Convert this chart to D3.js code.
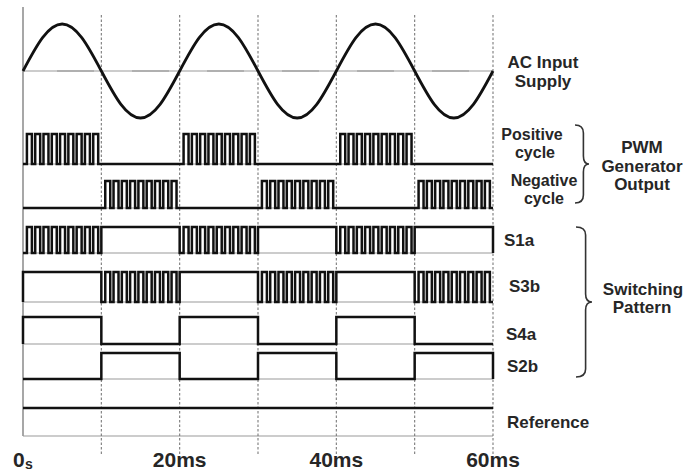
<!DOCTYPE html>
<html>
<head>
<meta charset="utf-8">
<script src="https://cdn.jsdelivr.net/npm/d3@7"></script>
<style>
  body { margin: 0; background: #fff; }
  svg { display: block; }
  text { font-family: "Liberation Sans", Arial, sans-serif; fill: #262626; }
</style>
</head>
<body>
<svg id="chart" width="686" height="473"></svg>
<script>
// ---- data ----
// time axis (ms)
var timeTicks = [0, 20, 40, 60];
var tickLabels = ["0", "20ms", "40ms", "60ms"];
var halfCycleMarks = [10, 20, 30, 40, 50, 60];

// AC supply, sampled every 2.5 ms (normalised amplitude)
var acTimes = [0, 2.5, 5, 7.5, 10, 12.5, 15, 17.5, 20, 22.5, 25, 27.5, 30,
               32.5, 35, 37.5, 40, 42.5, 45, 47.5, 50, 52.5, 55, 57.5, 60];
var acValues = [0, 0.71, 1, 0.71, 0, -0.71, -1, -0.71, 0, 0.71, 1, 0.71, 0,
                -0.71, -1, -0.71, 0, 0.71, 1, 0.71, 0, -0.71, -1, -0.71, 0];

// state of each signal for every 10 ms half cycle
var positiveCycle = ["pwm", "low", "pwm", "low", "pwm", "low"];
var negativeCycle = ["low", "pwm", "low", "pwm", "low", "pwm"];
var s1a = ["pwm", "high", "pwm", "high", "pwm", "high"];
var s3b = ["high", "pwm", "high", "pwm", "high", "pwm"];
var s4a = ["high", "low", "high", "low", "high", "low"];
var s2b = ["low", "high", "low", "high", "low", "high"];
var reference = ["low", "low", "low", "low", "low", "low"];

// carrier pulses inside one half cycle
var pwmPulses = 9;
var pwmDuty = 0.6;
var pwmFrom = 0.5;   // ms after the half cycle starts
var pwmTo = 9.6;

var svg = d3.select("#chart");
var x = d3.scaleLinear().domain([0, 60]).range([23, 493]);

// build [t, level] points for a signal
function wave(states) {
    var pts = [[0, 0]];
    states.forEach(function(s, i) {
        var t0 = i * 10;
        if (s == "high") pts.push([t0, 1]);
        else if (s == "low") pts.push([t0, 0]);
        else {
            pts.push([t0, 0]);
            var p = (pwmTo - pwmFrom) / (pwmPulses - 1 + pwmDuty);
            for (var k = 0; k < pwmPulses; k++) {
                var a = t0 + pwmFrom + k * p;
                pts.push([a, 1]);
                pts.push([a + pwmDuty * p, 0]);
            }
        }
    });
    pts.push([60, 0]);
    return pts;
}

// axis frame
svg.append("line")
    .attr("x1", x(0)).attr("x2", x(0))
    .attr("y1", 7).attr("y2", 436)
    .attr("stroke", "#8a8a8a").attr("stroke-width", 1.5);

svg.append("line")
    .attr("x1", x(0)).attr("x2", x(60))
    .attr("y1", 436).attr("y2", 436)
    .attr("stroke", "#9a9a9a").attr("stroke-width", 1.2);

// dashed half cycle markers
svg.selectAll(".mark")
    .data(halfCycleMarks)
    .enter()
    .append("line")
        .attr("x1", d => x(d)).attr("x2", d => x(d))
        .attr("y1", 15).attr("y2", 455)
        .attr("stroke", "#7a7a7a")
        .attr("stroke-width", 1.1)
        .attr("stroke-dasharray", "2.5,2");

// AC supply
var yAc = d3.scaleLinear().domain([-1, 1]).range([118, 24]);
svg.append("line")
    .attr("x1", x(0)).attr("x2", x(60))
    .attr("y1", yAc(0)).attr("y2", yAc(0))
    .attr("stroke", "#999").attr("stroke-width", 1);
svg.append("line")
    .attr("x1", x(0)).attr("x2", x(60))
    .attr("y1", yAc(0)).attr("y2", yAc(0))
    .attr("stroke", "#b0b0b0").attr("stroke-width", 2.2)
    .attr("stroke-dasharray", "37,38")
    .attr("stroke-dashoffset", 41);

svg.append("path")
    .datum(d3.zip(acTimes, acValues))
    .attr("fill", "none")
    .attr("stroke", "#111")
    .attr("stroke-width", 2.8)
    .attr("d", d3.line()
        .x(d => x(d[0]))
        .y(d => yAc(d[1]))
        .curve(d3.curveNatural));

// digital rows
var rows = [
    {states: positiveCycle, top: 134, bottom: 164},
    {states: negativeCycle, top: 181, bottom: 208},
    {states: s1a, top: 227, bottom: 253},
    {states: s3b, top: 272, bottom: 302},
    {states: s4a, top: 317, bottom: 344},
    {states: s2b, top: 353, bottom: 379},
    {states: reference, top: 380, bottom: 408}
];

rows.forEach(function(r) {
    var ys = d3.scaleLinear().domain([0, 1]).range([r.bottom, r.top]);
    svg.append("line")
        .attr("x1", x(0)).attr("x2", x(60))
        .attr("y1", ys(0)).attr("y2", ys(0))
        .attr("stroke", "#9a9a9a").attr("stroke-width", 1.2);
    svg.append("path")
        .datum(wave(r.states))
        .attr("fill", "none")
        .attr("stroke", "#111")
        .attr("stroke-width", 2.5)
        .attr("stroke-linejoin", "miter")
        .attr("d", d3.line()
            .x(d => x(d[0]))
            .y(d => ys(d[1]))
            .curve(d3.curveStepAfter));
});

// tick labels
svg.selectAll(".tick")
    .data(timeTicks)
    .enter()
    .append("text")
        .attr("x", d => d == 0 ? 13 : x(d))
        .attr("y", 467)
        .attr("text-anchor", d => d == 0 ? "start" : "middle")
        .style("font-size", "21px")
        .style("font-weight", "bold")
        .text((d, i) => tickLabels[i]);
svg.append("text")
    .attr("x", 25).attr("y", 469)
    .style("font-size", "14px")
    .style("font-weight", "bold")
    .text("s");

// right hand labels
function label(txt, xx, yy, anchor, size) {
    svg.append("text")
        .attr("x", xx).attr("y", yy)
        .attr("text-anchor", anchor || "middle")
        .style("font-size", (size || 17) + "px")
        .style("font-weight", "bold")
        .text(txt);
}
label("AC Input", 543, 68);
label("Supply", 543, 87);
label("Positive", 532, 140, "middle", 16);
label("cycle", 535, 158, "middle", 16);
label("Negative", 544, 186, "middle", 16);
label("cycle", 544, 204, "middle", 16);
label("PWM", 642, 153);
label("Generator", 642, 172);
label("Output", 642, 190);
label("S1a", 504, 246, "start");
label("S3b", 509, 292, "start");
label("S4a", 506, 340, "start");
label("S2b", 507, 372, "start");
label("Reference", 507, 428, "start");
label("Switching", 643, 295);
label("Pattern", 642, 313);

// curly braces
function brace(x0, y0, y1, depth) {
    var xm = x0 + depth * 0.6, xt = x0 + depth, ym = (y0 + y1) / 2, r = 8;
    return "M" + x0 + "," + y0 +
        " Q" + xm + "," + y0 + " " + xm + "," + (y0 + r) +
        " L" + xm + "," + (ym - r) +
        " Q" + xm + "," + ym + " " + xt + "," + ym +
        " Q" + xm + "," + ym + " " + xm + "," + (ym + r) +
        " L" + xm + "," + (y1 - r) +
        " Q" + xm + "," + y1 + " " + x0 + "," + y1;
}
svg.append("path")
    .attr("d", brace(575, 125, 203, 14))
    .attr("fill", "none").attr("stroke", "#333").attr("stroke-width", 1.6);
svg.append("path")
    .attr("d", brace(576, 227, 377, 16))
    .attr("fill", "none").attr("stroke", "#333").attr("stroke-width", 1.6);
</script>
</body>
</html>
